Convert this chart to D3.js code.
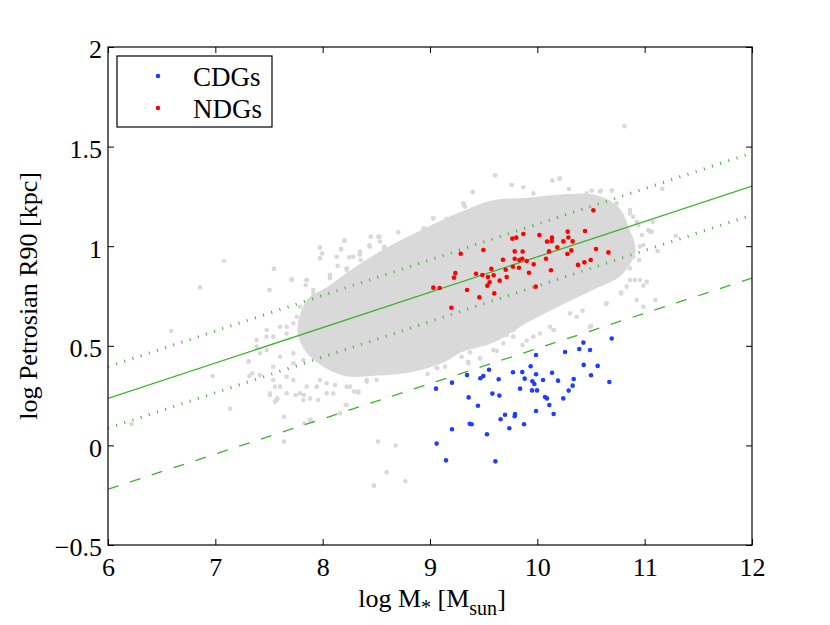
<!DOCTYPE html>
<html>
<head>
<meta charset="utf-8">
<script src="https://cdn.jsdelivr.net/npm/d3@7"></script>
<style>
  html, body { margin: 0; padding: 0; background: #fff; }
  svg text { font-family: "Liberation Serif", "DejaVu Serif", serif; fill: #000; }
</style>
</head>
<body>
<svg id="chart" width="830" height="625"></svg>
<script>
// ---------------- data ----------------
const xTicks = [6, 7, 8, 9, 10, 11, 12];
const xTickLabels = ["6", "7", "8", "9", "10", "11", "12"];
const yTicks = [-0.5, 0, 0.5, 1, 1.5, 2];
const yTickLabels = ["\u22120.5", "0", "0.5", "1", "1.5", "2"];

// relation lines: values at x = 6 and x = 12
const lineX = [6, 12];
const fitY = [0.236, 1.302];
const upperY = [0.395, 1.468];
const lowerY = [0.086, 1.157];
const dashY = [-0.22, 0.840];

// outline of the dense grey (parent sample) cloud, [logM, logR90]
const cloudOutline = [
  [7.789, 0.579], [7.882, 0.730], [8.040, 0.780], [8.348, 0.896], [8.655, 0.996],
  [8.972, 1.081], [9.280, 1.157], [9.587, 1.217], [9.904, 1.231], [10.211, 1.247],
  [10.519, 1.247], [10.742, 1.186], [10.836, 1.081], [10.891, 0.981], [10.770, 0.865],
  [10.519, 0.795], [10.211, 0.715], [9.904, 0.630], [9.587, 0.529], [9.280, 0.479],
  [9.121, 0.429], [8.814, 0.379], [8.506, 0.363], [8.189, 0.363], [7.882, 0.464]
];

// scattered grey galaxies around the dense cloud
const greyX = [6.857, 7.081, 6.590, 6.22, 7.547, 7.506, 7.711, 7.848, 7.842, 7.975, 7.994, 8.171, 8.205, 8.342,
  8.435, 8.528, 8.575, 8.944, 9.031, 8.851, 6.975, 7.137, 7.311, 7.385, 7.478, 7.640, 7.640, 7.829, 7.891,
  8.214, 8.516, 8.680, 8.596, 8.478, 8.770, 7.556, 7.578, 7.509, 7.665, 7.748, 7.826, 7.882, 7.944, 8.037,
  8.115, 8.292, 8.332, 7.416, 7.345, 7.758, 7.851, 7.960, 8.068, 8.224, 8.354,
  10.811, 9.606, 9.761, 9.870, 9.398, 9.311, 9.320, 10.140, 10.205, 10.295, 10.506, 10.593, 10.693, 11.165,
  11.289, 11.050, 11.075, 10.863, 10.894, 10.988, 11.121, 10.950, 10.863, 10.988, 11.100, 10.780, 10.640,
  10.422, 10.155, 9.777, 9.715, 9.466, 9.354, 9.124, 9.078, 9.140, 9.069, 9.031, 9.218, 9.124,
  10.926, 11.034, 10.677, 10.739, 10.957, 11.019, 10.926, 10.988, 10.500, 8.978, 9.062, 9.357, 9.466,
  9.621, 9.901, 9.863, 9.264, 9.373, 8.736, 8.783, 9.031, 10.149,
  7.307, 7.317, 7.385, 7.478, 7.416, 7.540, 7.556, 7.571, 7.603, 7.665, 7.711, 7.727, 7.789, 7.820, 7.851,
  7.913, 7.959, 8.068, 8.099, 8.255, 8.410, 8.565, 7.882, 8.224, 8.130, 8.286, 8.348, 8.441, 8.534, 8.161,
  7.547, 7.711, 7.503, 7.851, 7.975, 7.975, 8.171, 8.202, 8.248, 8.348, 8.447, 8.519, 8.435, 8.571, 8.705,
  8.798, 9.031, 9.155, 9.217, 8.938, 8.140, 8.068, 8.348, 8.224, 7.913, 7.882, 7.789, 7.727, 7.665, 7.540,
  7.478, 7.603, 7.727, 7.820, 7.665, 7.540, 7.603, 7.509, 7.727, 7.975, 8.162, 8.037, 7.851, 8.332, 8.224,
  8.410, 8.503, 8.596, 8.658, 8.752, 8.814, 8.938, 9.109, 9.031, 9.249,
  9.606, 9.761, 10.211, 9.398, 9.311, 9.326, 9.963, 10.056, 10.118, 10.304, 10.460, 10.584, 10.693, 10.786,
  10.863, 10.941, 10.972, 11.065, 10.956, 10.894, 10.863, 10.910, 10.832, 10.780, 10.646, 10.491, 10.304,
  10.366, 10.118, 10.025, 9.963, 9.776, 9.683, 9.590, 9.513, 9.404, 9.342, 9.295, 9.357];
const greyY = [0.794, 0.926, 0.574, 0.107, 0.887, 0.780, 0.830, 0.830, 0.804, 0.993, 0.964, 0.986, 1.030, 0.958,
  1.003, 1.048, 0.998, 1.090, 1.140, 1.035, 0.348, 0.184, 0.422, 0.496, 0.579, 0.144, 0.019, 0.111, 0.123,
  0.203, 0.019, -0.001, -0.135, -0.202, -0.180, 0.220, 0.236, 0.253, 0.262, 0.253, 0.253, 0.236, 0.295, 0.312,
  0.303, 0.270, 0.265, 0.352, 0.362, 0.646, 0.697, 0.738, 0.856, 0.889, 0.931,
  1.603, 1.356, 1.307, 1.296, 1.272, 1.215, 1.202, 1.329, 1.339, 1.287, 1.279, 1.279, 1.279, 1.287,
  1.051, 1.073, 1.123, 1.165, 1.148, 1.006, 0.976, 0.931, 0.830, 0.802, 0.730, 0.767, 0.710,
  0.676, 0.579, 0.579, 0.554, 0.437, 0.420, 0.429, 0.442, 0.395, 0.387, 1.140, 1.138, 1.098,
  1.123, 1.081, 1.190, 1.215, 0.830, 0.822, 0.730, 0.696, 0.599, 0.358, 0.390, 0.417, 0.437,
  0.474, 0.526, 0.504, 0.479, 0.467, 0.395, 0.412, 0.462, 0.579,
  0.420, 0.348, 0.529, 0.546, 0.462, 0.395, 0.295, 0.228, 0.596, 0.562, 0.830, 0.462, 0.261, 0.228, 0.830,
  0.763, 0.228, 0.839, 0.261, 0.295, 0.328, 0.362, 0.128, 0.203, 0.947, 0.947, 0.973, 0.998, 1.023, 0.161,
  0.887, 0.834, 0.780, 0.830, 0.993, 0.939, 0.984, 1.026, 0.944, 0.958, 1.048, 1.048, 1.003, 0.989, 1.070,
  1.034, 1.140, 1.138, 1.137, 1.081, 0.901, 0.847, 0.864, 0.880, 0.780, 0.730, 0.696, 0.613, 0.596, 0.546,
  0.479, 0.445, 0.412, 0.429, 0.345, 0.328, 0.295, 0.261, 0.328, 0.328, 0.395, 0.261, 0.295, 0.270, 0.295,
  0.320, 0.328, 0.362, 0.370, 0.379, 0.404, 0.437, 0.429, 0.471, 0.496,
  1.357, 1.307, 1.341, 1.272, 1.215, 1.198, 1.265, 1.232, 1.240, 1.240, 1.265, 1.274, 1.279, 1.148,
  1.182, 1.106, 1.056, 1.073, 0.998, 0.947, 0.889, 0.830, 0.797, 0.763, 0.713, 0.596, 0.663,
  0.646, 0.596, 0.562, 0.546, 0.546, 0.512, 0.479, 0.512, 0.496, 0.512, 0.445, 0.412];

// NDGs (red)
const ndgX = [10.522, 9.286, 9.497, 9.870, 9.804, 9.767, 10.019, 10.283, 10.444, 10.137, 10.090, 10.134, 10.242,
  10.329, 10.289, 10.186, 10.109, 10.317, 10.280, 10.547, 10.662, 9.789, 9.863, 9.680, 9.789, 9.832, 9.860,
  9.901, 9.966, 9.773, 9.829, 10.081, 10.127, 9.922, 10.379, 10.438, 10.497, 9.572, 9.705, 9.429, 9.488,
  9.540, 9.593, 9.714, 9.236, 9.224, 9.649, 9.556, 9.534, 9.031, 9.090, 9.345, 9.985, 9.599, 9.460, 9.199];
const ndgY = [1.180, 0.962, 0.981, 1.061, 1.043, 1.038, 1.056, 1.073, 1.076, 1.043, 1.023, 1.026, 1.024,
  1.024, 1.044, 0.994, 0.974, 0.979, 0.961, 0.986, 0.969, 0.974, 0.973, 0.932, 0.937, 0.931, 0.937,
  0.926, 0.909, 0.897, 0.892, 0.937, 0.879, 0.867, 0.906, 0.919, 0.931, 0.886, 0.882, 0.862, 0.855,
  0.845, 0.854, 0.845, 0.865, 0.842, 0.827, 0.819, 0.802, 0.792, 0.790, 0.780, 0.797, 0.763, 0.743, 0.691];

// CDGs (blue)
const cdgX = [10.693, 10.429, 10.391, 10.491, 10.258, 9.988, 9.938, 10.432, 10.562, 9.550, 9.773, 9.860, 9.988,
  10.137, 9.345, 9.497, 9.469, 9.640, 9.882, 9.954, 9.972, 10.053, 10.193, 10.339, 10.500, 10.671, 9.205,
  9.056, 9.839, 9.950, 9.997, 10.329, 10.292, 9.581, 9.646, 10.072, 10.090, 10.242, 9.360, 9.447, 10.112,
  9.988, 10.152, 9.699, 9.792, 9.789, 9.658, 9.370, 9.388, 9.876, 9.739, 9.205, 9.531, 9.062, 9.149, 9.609];
const cdgY = [0.537, 0.516, 0.484, 0.479, 0.469, 0.454, 0.397, 0.404, 0.399, 0.380, 0.367, 0.368, 0.357,
  0.365, 0.353, 0.348, 0.337, 0.332, 0.335, 0.322, 0.308, 0.328, 0.325, 0.333, 0.352, 0.318, 0.315,
  0.285, 0.285, 0.276, 0.276, 0.300, 0.275, 0.260, 0.250, 0.243, 0.236, 0.236, 0.241, 0.199, 0.203,
  0.173, 0.158, 0.154, 0.158, 0.146, 0.131, 0.109, 0.106, 0.106, 0.086, 0.081, 0.056, 0.009, -0.075, -0.080];

const legendNames = ["CDGs", "NDGs"];

// ---------------- drawing ----------------
const plot = { left: 108, right: 752, top: 47, bottom: 545 };
const GREY = "#d9d9d9", GREEN = "#3fb030", BLUE = "#1f3cff", RED = "#ff0000";

const svg = d3.select("#chart");
const x = d3.scaleLinear().domain([6, 12]).range([plot.left, plot.right]);
const y = d3.scaleLinear().domain([-0.5, 2]).range([plot.bottom, plot.top]);

svg.append("defs").append("clipPath").attr("id", "clip")
  .append("rect").attr("x", plot.left).attr("y", plot.top)
  .attr("width", plot.right - plot.left).attr("height", plot.bottom - plot.top);

const g = svg.append("g").attr("clip-path", "url(#clip)");

// dense cloud
g.append("path")
  .datum(cloudOutline)
  .attr("d", d3.line().x(d => x(d[0])).y(d => y(d[1])).curve(d3.curveCatmullRomClosed.alpha(0.5)))
  .attr("fill", GREY).attr("stroke", GREY).attr("stroke-width", 5).attr("stroke-linejoin", "round");

// scattered grey points
g.selectAll("circle.grey").data(d3.range(greyX.length)).join("circle")
  .attr("class", "grey")
  .attr("cx", i => x(greyX[i])).attr("cy", i => y(greyY[i])).attr("r", 2.3)
  .attr("fill", GREY);

// relation lines
const lineGen = ys => d3.line().x((d, i) => x(lineX[i])).y(d => y(d))(ys);
g.append("path").attr("d", lineGen(fitY)).attr("stroke", GREEN).attr("stroke-width", 1.3).attr("fill", "none");
[upperY, lowerY].forEach(ys => {
  g.append("path").attr("d", lineGen(ys)).attr("stroke", GREEN).attr("stroke-width", 3)
    .attr("stroke-dasharray", "1,7.6").attr("fill", "none");
});
g.append("path").attr("d", lineGen(dashY)).attr("stroke", GREEN).attr("stroke-width", 1.3)
  .attr("stroke-dasharray", "11,12").attr("fill", "none");

// CDGs and NDGs
g.selectAll("circle.cdg").data(d3.range(cdgX.length)).join("circle")
  .attr("class", "cdg")
  .attr("cx", i => x(cdgX[i])).attr("cy", i => y(cdgY[i])).attr("r", 2.3).attr("fill", BLUE);
g.selectAll("circle.ndg").data(d3.range(ndgX.length)).join("circle")
  .attr("class", "ndg")
  .attr("cx", i => x(ndgX[i])).attr("cy", i => y(ndgY[i])).attr("r", 2.3).attr("fill", RED);

// axes
const FS = 26;
const axB = svg.append("g").attr("transform", `translate(0,${plot.bottom})`)
  .call(d3.axisBottom(x).tickValues(xTicks).tickFormat((d, i) => xTickLabels[i]).tickSize(-6).tickSizeOuter(0).tickPadding(12.5));
const axL = svg.append("g").attr("transform", `translate(${plot.left},0)`)
  .call(d3.axisLeft(y).tickValues(yTicks).tickFormat((d, i) => yTickLabels[i]).tickSize(-6).tickSizeOuter(0).tickPadding(6));
const axT = svg.append("g").attr("transform", `translate(0,${plot.top})`)
  .call(d3.axisTop(x).tickValues(xTicks).tickFormat("").tickSize(-6).tickSizeOuter(0));
const axR = svg.append("g").attr("transform", `translate(${plot.right},0)`)
  .call(d3.axisRight(y).tickValues(yTicks).tickFormat("").tickSize(-6).tickSizeOuter(0));
[axB, axL, axT, axR].forEach(a => {
  a.select(".domain").remove();
  a.selectAll("line").attr("stroke", "#000").attr("stroke-width", 1);
  a.selectAll("text").attr("font-size", FS).attr("font-family", "Liberation Serif").attr("fill", "#000");
});
axL.selectAll("text").attr("dy", "0.42em");

svg.append("rect").attr("x", plot.left).attr("y", plot.top)
  .attr("width", plot.right - plot.left).attr("height", plot.bottom - plot.top)
  .attr("fill", "none").attr("stroke", "#000").attr("stroke-width", 1.2);

// axis labels
const xl = svg.append("text").attr("x", (plot.left + plot.right) / 2 + 2).attr("y", 607)
  .attr("text-anchor", "middle").attr("font-size", FS);
xl.append("tspan").text("log M");
xl.append("tspan").attr("font-size", 20).attr("dy", 7).text("*");
xl.append("tspan").attr("dy", -7).text(" [M");
xl.append("tspan").attr("font-size", 20).attr("dy", 8).text("sun");
xl.append("tspan").attr("dy", -8).text("]");

svg.append("text").attr("transform", `translate(37,${(plot.top + plot.bottom) / 2}) rotate(-90)`)
  .attr("text-anchor", "middle").attr("font-size", FS).text("log Petrosian R90 [kpc]");

// legend
const lg = svg.append("g");
lg.append("rect").attr("x", 117).attr("y", 56).attr("width", 155).attr("height", 71)
  .attr("fill", "#fff").attr("stroke", "#000").attr("stroke-width", 1.2);
const legColors = [BLUE, RED];
legendNames.forEach((name, i) => {
  const cy = 76 + i * 32;
  lg.append("circle").attr("cx", 158).attr("cy", cy).attr("r", 2.3).attr("fill", legColors[i]);
  lg.append("text").attr("x", 193).attr("y", cy + 10).attr("font-size", 27).text(name);
});
</script>
</body>
</html>
